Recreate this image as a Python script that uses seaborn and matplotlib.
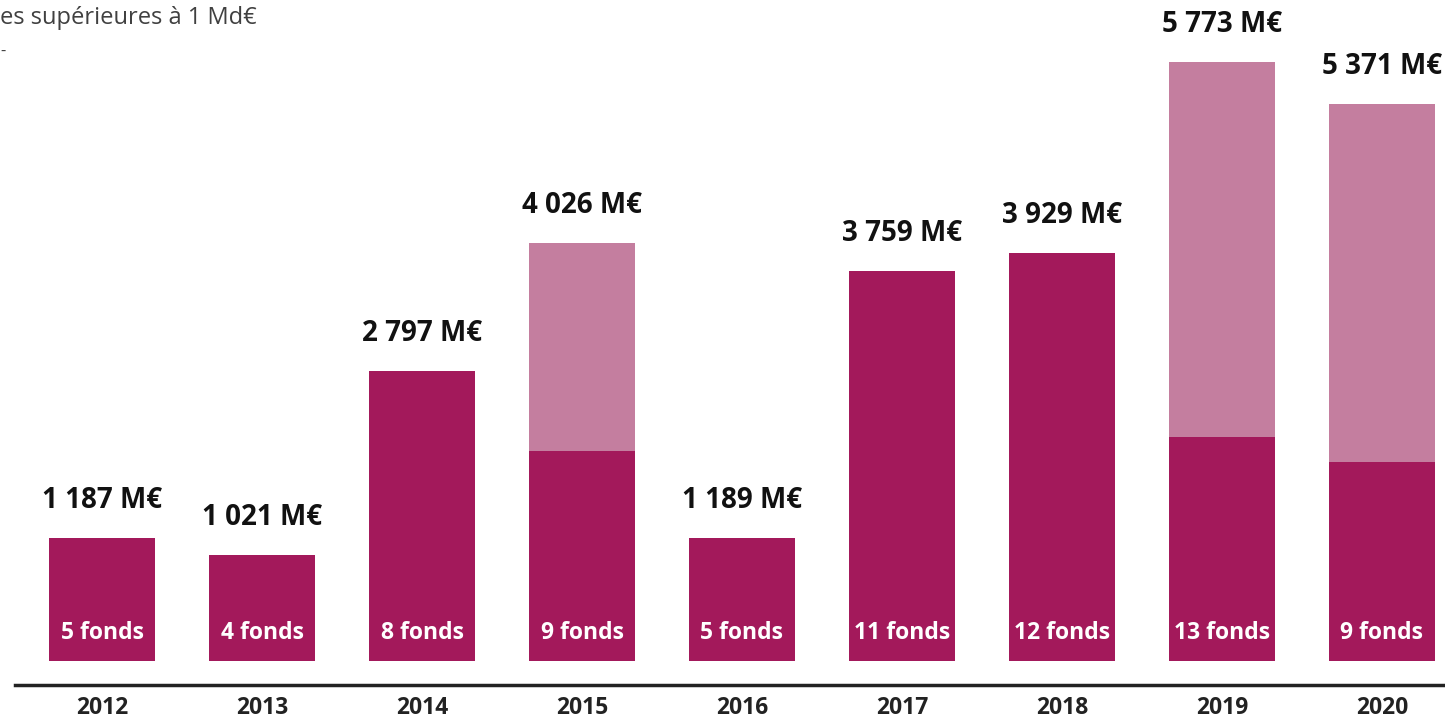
import pandas as pd
from matplotlib import pyplot as plt
import seaborn as sns

years = ["2012", "2013", "2014", "2015", "2016", "2017", "2018", "2019", "2020"]
totals = [1187, 1021, 2797, 4026, 1189, 3759, 3929, 5773, 5371]
dark_part = [1187, 1021, 2797, 2024, 1189, 3759, 3929, 2159, 1918]
funds = [5, 4, 8, 9, 5, 11, 12, 13, 9]

df = pd.DataFrame({"year": years, "total": totals, "dark": dark_part, "funds": funds})

dark_color = "#A3195B"
light_color = "#C47E9F"

sns.set_style("white")
plt.rcParams["font.family"] = ["Open Sans", "DejaVu Sans"]

fig = plt.figure(figsize=(14.45, 7.18), dpi=100)
ax = fig.add_axes([15 / 1445, 1 - 685 / 718, 1430 / 1445, 685 / 718])

# light = total, dark drawn on top -> stacked look
sns.barplot(x="year", y="total", data=df, color=light_color, width=0.66,
            saturation=1, linewidth=0, ax=ax)
sns.barplot(x="year", y="dark", data=df, color=dark_color, width=0.66,
            saturation=1, linewidth=0, ax=ax)

ax.set_xlim(-0.544, 8.394)
ax.set_ylim(-231, 6370)

for i, row in df.iterrows():
    label = f"{row['total']:,}".replace(",", " ") + " M€"
    ax.annotate(label, (i, row["total"]), xytext=(0, 27), textcoords="offset points",
                ha="center", va="center", fontsize=20, fontweight="bold", color="#111111")
    ax.annotate(f"{row['funds']} fonds", (i, 0), xytext=(0, 20), textcoords="offset points",
                ha="center", va="center", fontsize=16.5, fontweight="bold", color="white")

ax.set_xlabel("")
ax.set_ylabel("")
ax.set_yticks([])
ax.tick_params(axis="x", length=0, pad=8)
for t in ax.get_xticklabels():
    t.set_fontsize(16.5)
    t.set_fontweight("bold")
    t.set_color("#222222")

for s in ["top", "right", "left"]:
    ax.spines[s].set_visible(False)
ax.spines["bottom"].set_color("#222222")
ax.spines["bottom"].set_linewidth(2.5)

fig.text(0, 1 - 18 / 718, "es supérieures à 1 Md€", fontsize=17, color="#404040",
         ha="left", va="center")
fig.text(0, 1 - 52 / 718, "-", fontsize=12, color="#404040", ha="left", va="center")

fig.savefig("out.png", dpi=100)
